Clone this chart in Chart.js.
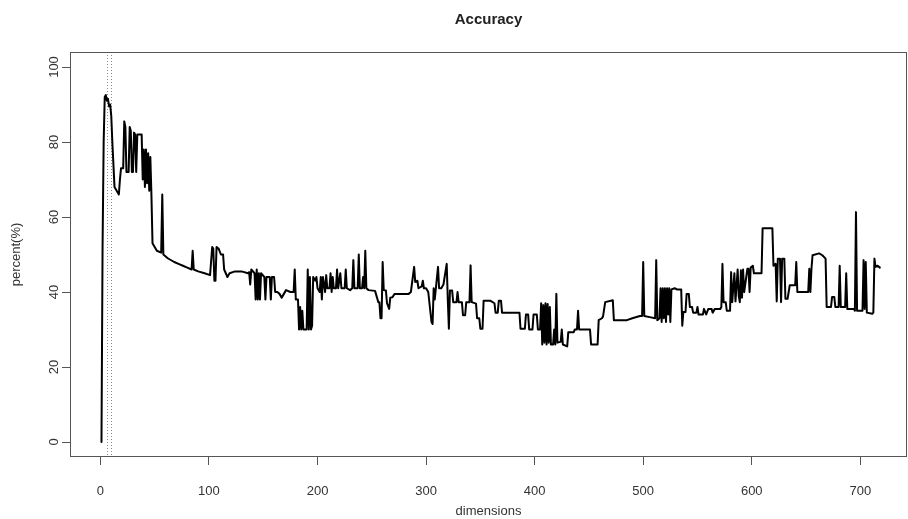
<!DOCTYPE html>
<html><head><meta charset="utf-8">
<script src="https://cdn.jsdelivr.net/npm/chart.js@4.4.1/dist/chart.umd.min.js"></script>
<style>html,body{margin:0;padding:0;background:#fff}#wrap{width:908px;height:519px;position:relative}</style>
</head><body><div id="wrap"><canvas id="c" width="908" height="519"></canvas></div>
<script>
const chartTitle = 'Accuracy';
const xAxisLabel = 'dimensions';
const yAxisLabel = 'percent(%)';
const xTicks = [0, 100, 200, 300, 400, 500, 600, 700];
const yTicks = [0, 20, 40, 60, 80, 100];
const markerDims = [6, 10];

const dims = [
  1,2,3,4,5,6,7,8,9,10,
  11,12,13,15,17,18,19,21,22,23,
  24,26,27,28,29,30,31,32,33,34,
  38,39,40,41,42,43,44,45,46,47,
  48,50,52,56,57,58,62,68,72,76,
  80,84,85,86,90,96,101,103,104,105,
  106,107,109,111,113,114,117,119,124,130,
  136,137,138,139,142,143,144,145,146,147,
  148,151,152,153,156,157,158,160,161,163,
  165,167,169,171,175,178,179,180,182,183,
  184,185,186,187,190,191,192,193,194,195,
  196,198,199,200,202,203,204,205,207,208,
  209,211,212,213,214,215,217,218,219,221,
  222,225,226,227,230,232,233,234,237,238,
  239,241,242,243,244,245,247,253,256,257,
  258,259,260,261,263,264,266,267,269,271,
  284,286,289,290,292,293,296,297,298,300,
  302,305,306,307,308,311,312,314,316,319,
  320,321,322,324,325,328,329,330,333,334,
  336,337,340,341,342,346,347,349,350,352,
  353,359,363,364,366,367,369,370,386,387,
  391,392,394,395,398,399,402,403,405,406,
  407,408,409,410,411,412,413,414,415,417,
  418,419,420,421,424,425,426,430,431,436,
  437,439,440,441,451,452,458,459,462,463,
  465,472,473,485,490,497,499,500,501,506,
  511,512,513,515,516,517,518,519,520,521,
  522,523,524,525,526,529,531,535,536,537,
  539,540,542,543,545,546,549,550,551,555,
  556,558,560,563,564,566,571,572,573,574,
  576,577,580,581,582,584,585,587,588,589,
  590,591,592,593,596,597,598,599,601,602,
  604,609,610,619,620,622,623,624,626,627,
  628,630,631,633,635,640,641,642,652,653,
  654,655,656,662,665,668,669,673,674,676,
  677,680,681,682,686,687,688,694,695,696,
  697,702,703,704,705,706,711,712,713,714,
  716,718
];

const accuracy = [
  0,52,80,92,92.5,91,91.5,89.5,90,87,
  80,74,68,67,66,70,73,73,85.5,84,
  72,72,84,83,72,72,82.5,82,72,82,
  82,70,78,68,78,69,77,67,76,66,
  53,52,51,50.5,66,50,49,48,47.5,47,
  46.5,46,51,46,45.5,45,44.5,52,51.5,43,
  43,52,51.5,50,50,46,44,45,45.5,45.5,
  45,45.3,42,46,45,38,46,38,45,38,
  45,44,38,44,44,38,44,44,40,40,
  39.5,38.5,39.5,40.5,40,40,46,38,38,30,
  36,30,35,30,30,46,30,44,30,31,
  44,43,44,41,40,44,38,44,40,44.5,
  41,41,45,40,44,41,41,46,41,45,
  41,41,46,41,40.5,41,48.5,41,41,50,
  41,41,44,41,51,41,40.5,40.3,37.3,37.3,
  33,33,48,40.5,40.4,37,35.5,38.5,38.6,39.5,
  39.5,40,46.7,42.7,43,41,41.5,43,41,41,
  40,32,31.5,41,38,46.7,41,41,42,47.5,
  38,30.2,40.4,40.4,37.3,37.3,40,37.3,37.3,33.8,
  33.8,37.3,37.3,47.1,37.3,36.9,33,33,30.2,30.2,
  37.7,37.7,37,34.5,34.5,37.7,37.7,34.5,34.5,30.2,
  30.2,34,34,30,30,34,34,30,30,37,
  26,36.5,26.5,37,26,36.8,26.5,36,26,26,
  30,26,39.5,26.5,26.7,30,26,25.5,29.3,29.3,
  30,30,35,30,30,26,26,32.5,33,33.5,
  37.3,37.8,32.5,32.5,33,33.6,33.6,48,33.6,33.3,
  33,48.5,32.5,33,41,32,41,33,41,32,
  41,34,41,32,40.7,41,40.7,40.7,31,34.7,
  34.7,39.5,39.5,36,36,34.5,34.5,36,34,34,
  35.5,34,35.5,35.5,34.5,35.5,35.5,36,47.5,37.3,
  37.3,35,35,45.3,37.3,45,37.5,46,39,37.3,
  45.8,38.5,46,40,46.2,46.2,40,46.5,47,45,
  45,45,57,57,47,47.5,37.5,48.9,48.9,37.3,
  48.9,48.9,38.2,38.2,41.8,41.8,48,40,40,46.2,
  40,46.2,49.8,50.3,49.8,48.9,36,36,38.7,38.7,
  36,36,47,36,36,45,35.5,35.5,35,61.3,
  35,35,48.5,35.5,48,34.5,34.2,34.5,48.9,46.7,
  47,46.5
];

const TEXT = '#333';
const AXIS = '#555';
const FONT = "'Liberation Sans', Arial, Helvetica, sans-serif";

const decor = {
  id: 'decor',
  beforeDatasetsDraw(chart) {
    const {ctx, chartArea: a, scales: {x}} = chart;
    ctx.save();
    ctx.strokeStyle = '#8c8c8c';
    ctx.lineWidth = 1;
    ctx.setLineDash([1, 2]);
    markerDims.forEach(m => {
      const px = Math.round(x.getPixelForValue(m)) + 0.5;
      ctx.beginPath(); ctx.moveTo(px, a.top); ctx.lineTo(px, a.bottom); ctx.stroke();
    });
    ctx.restore();
  },
  afterDraw(chart) {
    const {ctx, chartArea: a} = chart;
    ctx.save();
    ctx.strokeStyle = AXIS;
    ctx.lineWidth = 1;
    ctx.strokeRect(Math.round(a.left) + 0.5, Math.round(a.top) + 0.5,
                   Math.round(a.right - a.left) - 1, Math.round(a.bottom - a.top) - 1);
    ctx.fillStyle = '#222';
    ctx.font = "bold 15px " + FONT;
    ctx.textAlign = 'center';
    ctx.textBaseline = 'middle';
    ctx.fillText(chartTitle, (a.left + a.right) / 2, 20);
    ctx.restore();
  }
};

new Chart(document.getElementById('c'), {
  type: 'line',
  data: {
    datasets: [{
      data: dims.map((d, i) => ({x: d, y: accuracy[i]})),
      borderColor: '#000',
      borderWidth: 2,
      pointRadius: 0,
      tension: 0,
      borderJoinStyle: 'round',
      borderCapStyle: 'round',
      fill: false
    }]
  },
  options: {
    responsive: false,
    animation: false,
    devicePixelRatio: 1,
    layout: {padding: {top: 52, right: 1, left: 0, bottom: 0}},
    plugins: {legend: {display: false}, tooltip: {enabled: false}, title: {display: false}},
    scales: {
      x: {
        type: 'linear', min: -28, max: 743,
        afterBuildTicks: s => { s.ticks = xTicks.map(v => ({value: v})); },
        afterFit: s => { s.height = 62; },
        border: {display: false},
        grid: {drawOnChartArea: false, drawTicks: true, tickLength: 8, color: AXIS, lineWidth: 1},
        ticks: {color: TEXT, font: {family: FONT, size: 13}, padding: 19, maxRotation: 0, autoSkip: false},
        title: {display: true, text: xAxisLabel, color: TEXT, font: {family: FONT, size: 13}, padding: {top: 0, bottom: 0}}
      },
      y: {
        type: 'linear', min: -4, max: 104,
        afterBuildTicks: s => { s.ticks = yTicks.map(v => ({value: v})); },
        afterFit: s => { s.width = 70; },
        border: {display: false},
        grid: {drawOnChartArea: false, drawTicks: true, tickLength: 8, color: AXIS, lineWidth: 1},
        ticks: {color: TEXT, font: {family: FONT, size: 13}, padding: -3, minRotation: 90, maxRotation: 90, crossAlign: 'center', autoSkip: false},
        title: {display: true, text: yAxisLabel, color: TEXT, font: {family: FONT, size: 13}, padding: {top: 9, bottom: 0}}
      }
    }
  },
  plugins: [decor]
});
</script>
</body></html>
